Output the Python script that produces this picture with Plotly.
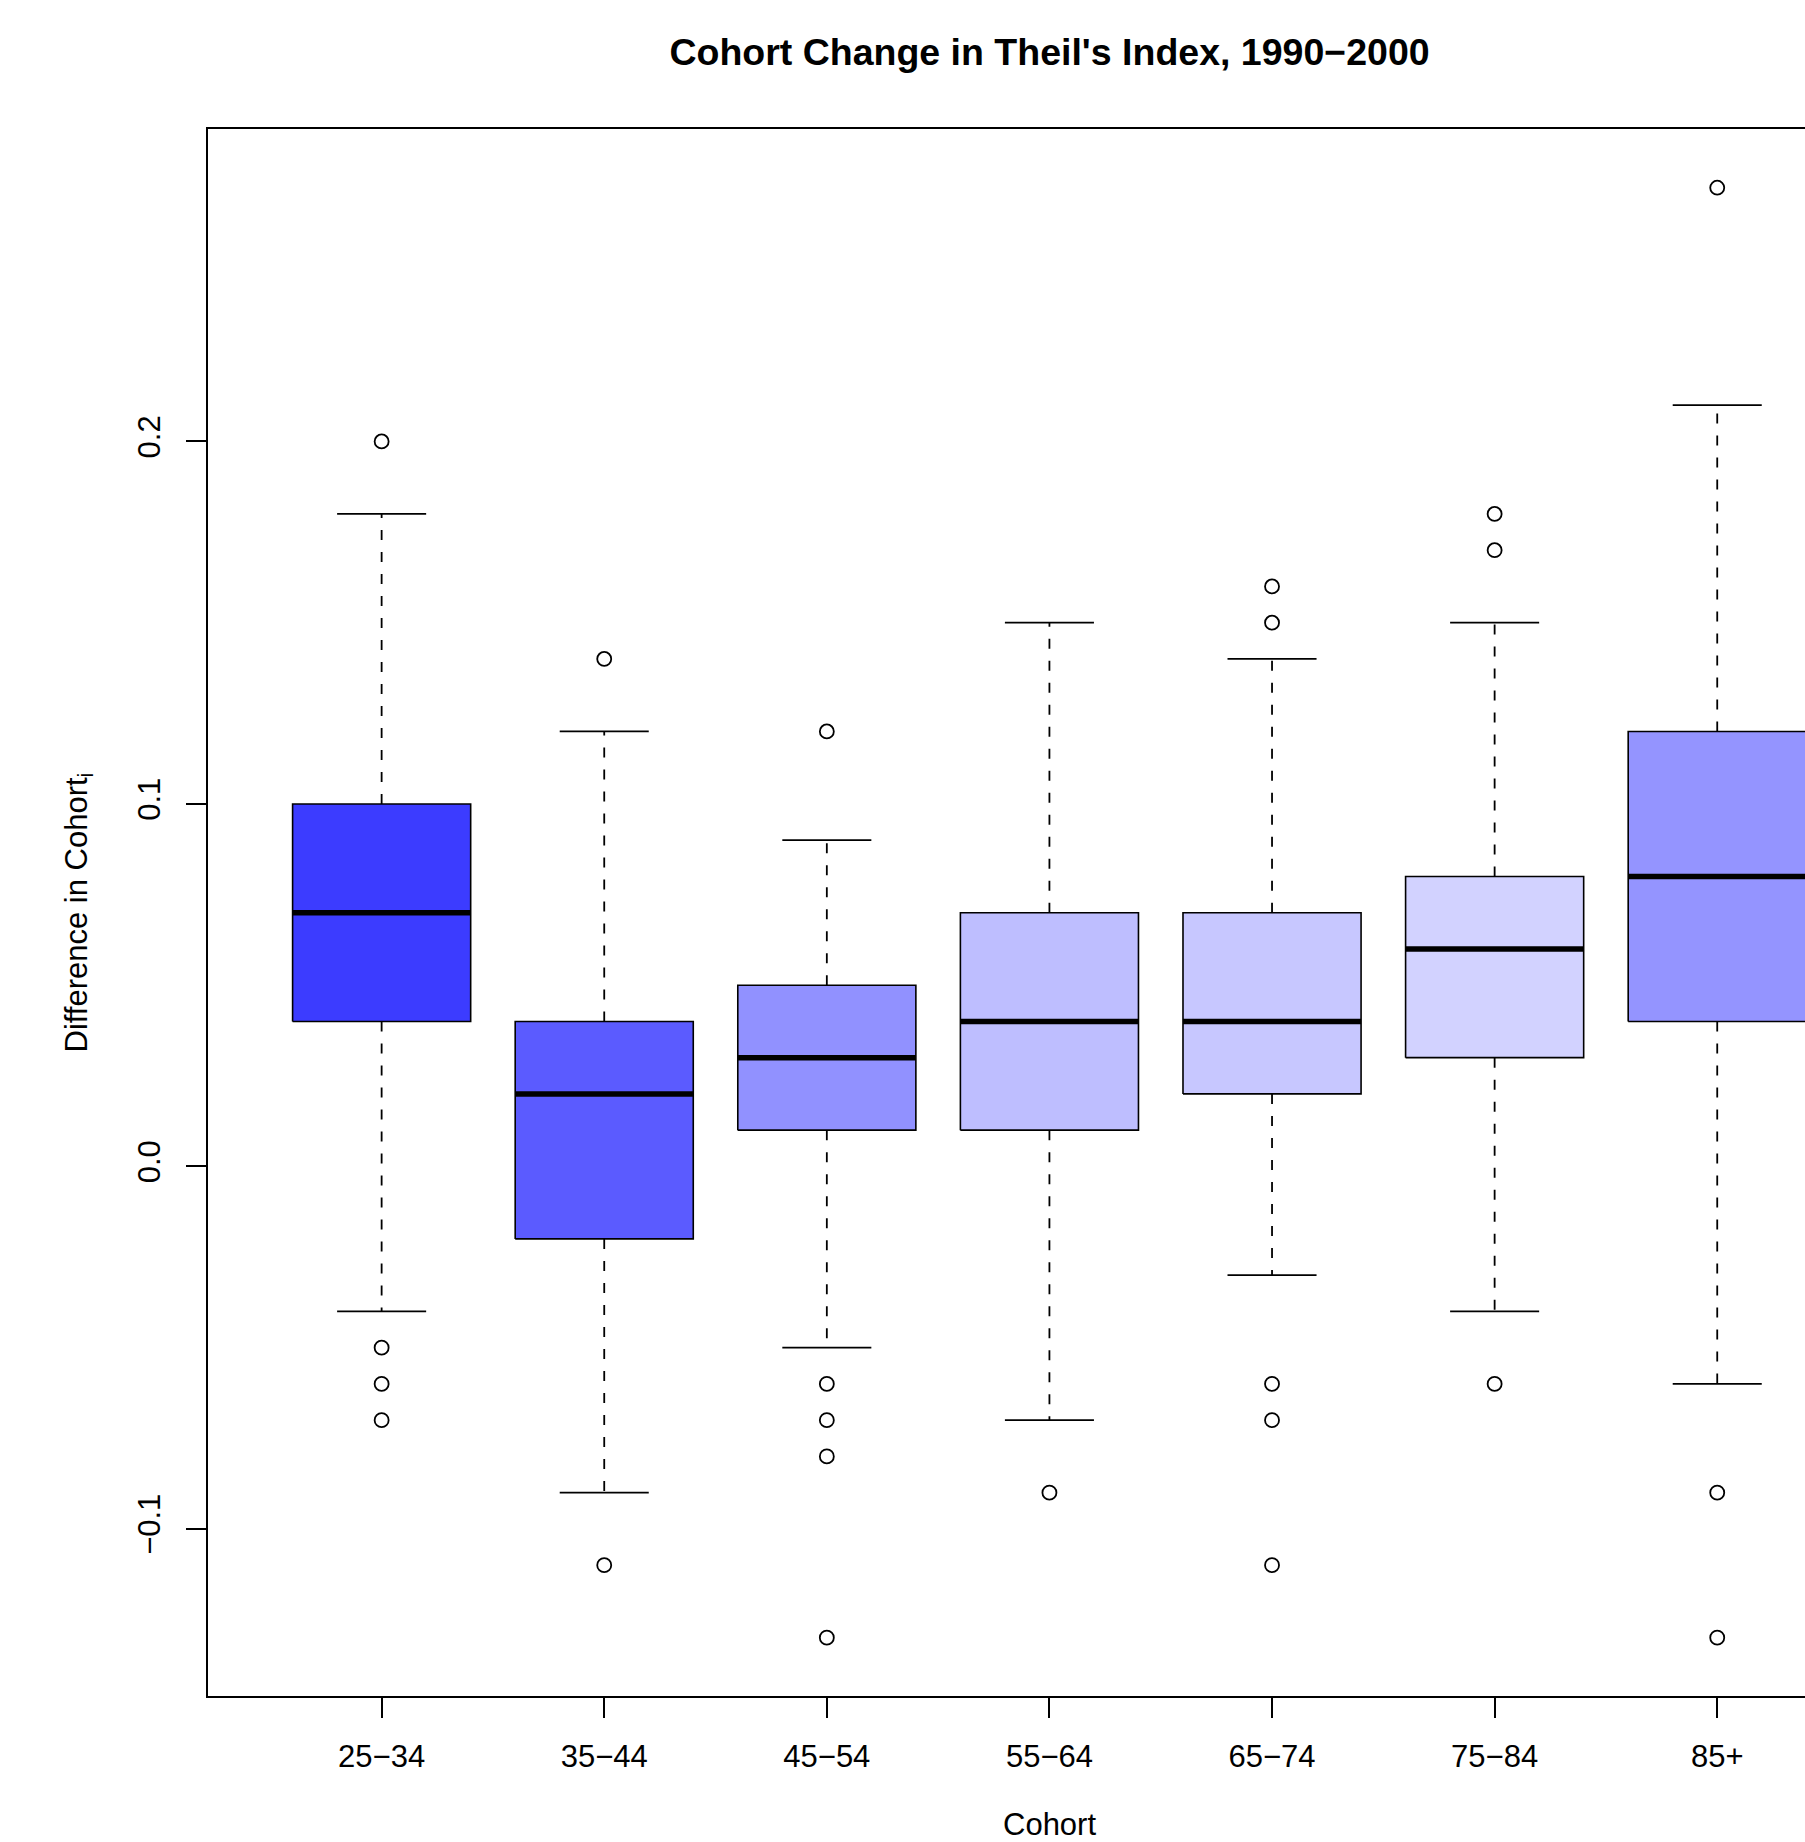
import plotly.graph_objects as go

# ---- data ----
cohorts = ["25−34", "35−44", "45−54", "55−64", "65−74", "75−84", "85+"]
lower_whisker = [-0.04, -0.09, -0.05, -0.07, -0.03, -0.04, -0.06]
q1 = [0.04, -0.02, 0.01, 0.01, 0.02, 0.03, 0.04]
median = [0.07, 0.02, 0.03, 0.04, 0.04, 0.06, 0.08]
q3 = [0.10, 0.04, 0.05, 0.07, 0.07, 0.08, 0.12]
upper_whisker = [0.18, 0.12, 0.09, 0.15, 0.14, 0.15, 0.21]
outliers = [
    [0.20, -0.05, -0.06, -0.07],
    [0.14, -0.11],
    [0.12, -0.06, -0.07, -0.08, -0.13],
    [-0.09],
    [0.16, 0.15, -0.06, -0.07, -0.11],
    [0.18, 0.17, -0.06],
    [0.27, -0.09, -0.13],
]
fill_colors = ["#3c3cff", "#5b5bff", "#9191ff", "#bebeff", "#c7c7ff", "#d2d2ff", "#9494ff"]
y_ticks = [-0.1, 0.0, 0.1, 0.2]
y_tick_text = ["−0.1", "0.0", "0.1", "0.2"]

# ---- style ----
FONT = "Liberation Sans, Arial, Helvetica, sans-serif"
BOX_HALF = 0.4
STAPLE_HALF = 0.2
W, H = 1805, 1842
ML, MT, MB = 208, 129, 146

fig = go.Figure()
positions = list(range(1, len(cohorts) + 1))

for i, x in enumerate(positions):
    # dashed whiskers
    fig.add_trace(go.Scatter(
        x=[x, x, None, x, x],
        y=[q3[i], upper_whisker[i], None, q1[i], lower_whisker[i]],
        mode="lines", line=dict(color="black", width=1.8, dash="10px,12px"),
        hoverinfo="skip", showlegend=False))
    # staples
    fig.add_trace(go.Scatter(
        x=[x - STAPLE_HALF, x + STAPLE_HALF, None, x - STAPLE_HALF, x + STAPLE_HALF],
        y=[upper_whisker[i], upper_whisker[i], None, lower_whisker[i], lower_whisker[i]],
        mode="lines", line=dict(color="black", width=1.8),
        hoverinfo="skip", showlegend=False))
    # box
    fig.add_trace(go.Scatter(
        x=[x - BOX_HALF, x + BOX_HALF, x + BOX_HALF, x - BOX_HALF, x - BOX_HALF],
        y=[q1[i], q1[i], q3[i], q3[i], q1[i]],
        mode="lines", fill="toself", fillcolor=fill_colors[i],
        line=dict(color="black", width=1.6),
        hoverinfo="skip", showlegend=False))
    # median
    fig.add_trace(go.Scatter(
        x=[x - BOX_HALF, x + BOX_HALF], y=[median[i], median[i]],
        mode="lines", line=dict(color="black", width=5.5),
        hoverinfo="skip", showlegend=False))
    # outliers
    fig.add_trace(go.Scatter(
        x=[x] * len(outliers[i]), y=outliers[i],
        mode="markers",
        marker=dict(symbol="circle-open", size=14, color="black", line=dict(width=1.8)),
        hoverinfo="skip", showlegend=False))

fig.update_layout(
    width=W, height=H,
    margin=dict(l=ML, r=0, t=MT, b=MB, pad=0),
    paper_bgcolor="white", plot_bgcolor="white",
    font=dict(family=FONT, size=31, color="black"),
    title=dict(text="<b>Cohort Change in Theil's Index, 1990−2000</b>",
               font=dict(family=FONT, size=37.5, color="black"),
               x=1049.5 / W, xref="container", xanchor="center",
               y=1 - 52 / H, yref="container", yanchor="middle"),
    xaxis=dict(range=[0.22, 0.22 + (W - ML) / 222.6],
               tickmode="array", tickvals=positions, ticktext=cohorts,
               showline=True, linecolor="black", linewidth=2, mirror=True,
               ticks="outside", ticklen=20, tickwidth=1.8, tickcolor="black",
               ticklabelstandoff=12,
               showgrid=False, zeroline=False, tickfont=dict(size=31)),
    yaxis=dict(range=[-0.1461, 0.2862],
               tickmode="array", tickvals=y_ticks, ticktext=y_tick_text,
               tickangle=-90,
               showline=True, linecolor="black", linewidth=2, mirror=False,
               ticks="outside", ticklen=20, tickwidth=1.8, tickcolor="black",
               ticklabelstandoff=14,
               showgrid=False, zeroline=False, tickfont=dict(size=31)),
    annotations=[
        dict(text="Cohort", x=4, xref="x", y=-(1824 - 1696) / (H - MT - MB),
             yref="paper", xanchor="center", yanchor="middle", showarrow=False,
             font=dict(family=FONT, size=31, color="black")),
        dict(text="Difference in Cohort<sub>i</sub>", textangle=-90,
             x=(78 - ML) / (W - ML), xref="paper", y=0.5, yref="paper",
             xanchor="center", yanchor="middle", showarrow=False,
             font=dict(family=FONT, size=31, color="black")),
    ],
)

fig.write_html("out.html", config={"displayModeBar": False},
               post_script="document.body.style.margin='0';document.body.style.overflow='hidden';")
